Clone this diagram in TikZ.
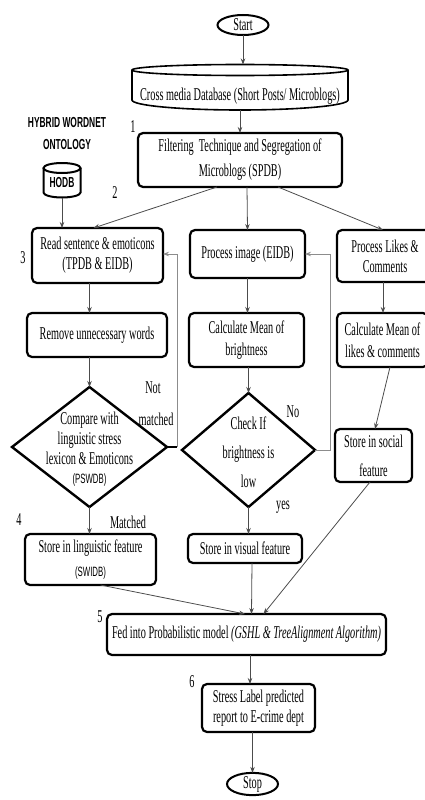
\documentclass[tikz,border=0pt]{standalone}
\usepackage{fontspec}
\setmainfont{Liberation Serif}[FakeStretch=0.57]
\newfontfamily\narrowsans{Liberation Sans}[FakeStretch=0.58]
\usetikzlibrary{shapes.geometric,arrows.meta}
\begin{document}
\begin{tikzpicture}[x=1pt,y=-1pt,
  every node/.style={inner sep=0pt, outer sep=0pt},
  txt/.style={font=\fontsize{18}{20}\selectfont, align=center},
  procbox/.style={draw, line width=2.2pt, rounded corners=5pt, txt},
  term/.style={draw, ellipse, line width=2pt, txt},
  decision/.style={draw, diamond, line width=2.4pt},
  arr/.style={draw=black!70, line width=0.8pt, -{Stealth[length=6pt,width=4.5pt]}},
  backarr/.style={draw=black!45, line width=0.8pt, -{Stealth[length=6pt,width=4.5pt]}},
  num/.style={font=\fontsize{18}{20}\selectfont},
  dbline/.style={draw, line width=1.6pt},
  sanshead/.style={font=\narrowsans\bfseries\fontsize{14.5}{22}\selectfont, align=center},
  dbcode/.style={font=\narrowsans\fontsize{13.5}{14}\selectfont}
]
\useasboundingbox (0,0) rectangle (425,800);

% terminals
\node[term, minimum width=51, minimum height=20] (start) at (243,25) {Start};
\node[term, minimum width=51, minimum height=22] (stop) at (252.5,784) {Stop};

% source database drum
\coordinate (dbtop) at (243,64.5);
\draw[dbline] (132,70) -- (132,100) arc[start angle=180, end angle=0, x radius=108, y radius=10] -- (348,70);
\draw[dbline] (240,70) ellipse[x radius=108, y radius=5.5];
\node[txt, minimum width=216, minimum height=28] (db) at (240,96) {Cross media Database (Short Posts/ Microblogs)};

% ontology store
\node[sanshead] (onto) at (67,134) {HYBRID WORDNET\\ONTOLOGY};
\draw[dbline, line width=2pt] (43.5,168) -- (43.5,192.5) arc[start angle=180, end angle=0, x radius=18.5, y radius=5] -- (80.5,168);
\draw[dbline, line width=2pt] (62,168) ellipse[x radius=18.5, y radius=5];
\node[font=\narrowsans\bfseries\fontsize{14.5}{16}\selectfont, minimum width=37, minimum height=30] (hodb) at (62,183) {HODB};

% process boxes
\node[procbox, minimum width=204, minimum height=54] (filter) at (240,160)
  {Filtering\ \ Technique and Segregation of\\[5pt]Microblogs (SPDB)};
\node[procbox, minimum width=131, minimum height=55] (read) at (97.5,255.5)
  {Read sentence \& emoticons\\(TPDB \& EIDB)};
\node[procbox, minimum width=115, minimum height=48] (proc) at (247.5,254) {Process image (EIDB)};
\node[procbox, minimum width=96, minimum height=52] (likes) at (385,256) {Process Likes \&\\Comments};
\node[procbox, minimum width=140, minimum height=44] (remove) at (97,335) {Remove unnecessary words};
\node[procbox, minimum width=115, minimum height=54] (calcb) at (246.5,340) {Calculate Mean of\\[2pt]brightness};
\node[procbox, minimum width=91, minimum height=54] (calcl) at (382.5,340) {Calculate Mean of\\[2pt]likes \& comments};

% decisions
\node[decision, minimum width=155, minimum height=120] (cmp) at (89.5,447) {};
\node[txt] (cmptext) at (89.5,449) {Compare with\\linguistic stress\\lexicon \& Emoticons\\[-1pt]{\narrowsans\fontsize{13.5}{14}\selectfont(PSWDB)}};
\node[decision, minimum width=133, minimum height=114] (chk) at (248.5,450) {};
\node[txt] (chktext) at (248.5,452.5) {Check If\\[9pt]brightness is\\[9pt]low};

\node[procbox, minimum width=77, minimum height=53] (storesoc) at (373.5,455.5) {Store in social\\[9pt]feature};
\node[procbox, minimum width=131, minimum height=51] (storeling) at (90.5,559.5)
  {Store in linguistic feature\\[4pt]{\narrowsans\fontsize{13.5}{14}\selectfont(SWIDB)}};
\node[procbox, minimum width=114, minimum height=29] (storevis) at (245,548.5) {Store in visual feature};
\node[procbox, minimum width=279, minimum height=41] (fed) at (246.5,634.5)
  {Fed into Probabilistic model \textit{(GSHL \& TreeAlignment Algorithm)}};
\node[procbox, minimum width=113, minimum height=48] (stress) at (258.5,708)
  {Stress Label predicted\\report to E-crime dept};

% step numbers and branch labels
\node[num] (n1) at (133,127) {1};
\node[num] (n2) at (115,193) {2};
\node[num] (n3) at (23,258) {3};
\node[num] (n4) at (19,520) {4};
\node[num] (n5) at (100,617) {5};
\node[num] (n6) at (192,682) {6};
\node[txt] (lnot) at (153,388) {Not};
\node[txt] (lmatched) at (156,419) {matched};
\node[txt] (lno) at (293,412) {No};
\node[txt] (lyes) at (283,507) {yes};
\node[txt] (lmatch) at (128,522) {Matched};

% flow
\draw[arr] (start) -- (dbtop);
\draw[arr] (db.south) -- (filter.north);
\draw[arr] ([xshift=-23pt]filter.south) -- ([xshift=-4pt]read.north);
\draw[arr] ([xshift=7pt]filter.south) -- (proc.north);
\draw[arr] ([xshift=38pt]filter.south) -- ([xshift=-2pt]likes.north);
\draw[arr] (hodb.south) -- (hodb.south |- read.north);
\draw[arr] (read.south -| cmp.north) -- (remove.north -| cmp.north);
\draw[arr] (remove.south -| cmp.north) -- (cmp.north);
\draw[arr] (cmp.south) -- (storeling.north -| cmp.south);
\coordinate (nm) at (177,447);
\draw[line width=2.4pt] (cmp.east) -- (nm);
\draw[backarr] (nm) |- ([yshift=1.5pt]read.east);
\draw[arr] (proc.south) -- (proc.south |- calcb.north);
\draw[arr] (calcb.south -| chk.north) -- (chk.north);
\coordinate (nob) at (330,450);
\draw[backarr] (chk.east) -- (nob) |- (proc.east);
\draw[arr] (chk.south) -- (storevis.north -| chk.south);
\draw[arr] ([xshift=-2pt]likes.south) -- ([xshift=0.5pt]calcl.north);
\draw[arr] ([xshift=7.5pt]calcl.south) -- ([xshift=1.5pt]storesoc.north);
\draw[arr] ([xshift=-3.5pt]storesoc.south) -- ([xshift=17pt]fed.north);
\draw[arr] ([xshift=10pt]storeling.south) -- ([xshift=-1.5pt]fed.north);
\draw[arr] ([xshift=7pt]storevis.south) -- ([xshift=5pt]fed.north);
\draw[arr] ([xshift=3.5pt]fed.south) -- ([xshift=-8.5pt]stress.north);
\draw[arr] ([xshift=-6pt]stress.south) -- (stop.north);
\end{tikzpicture}
\end{document}
